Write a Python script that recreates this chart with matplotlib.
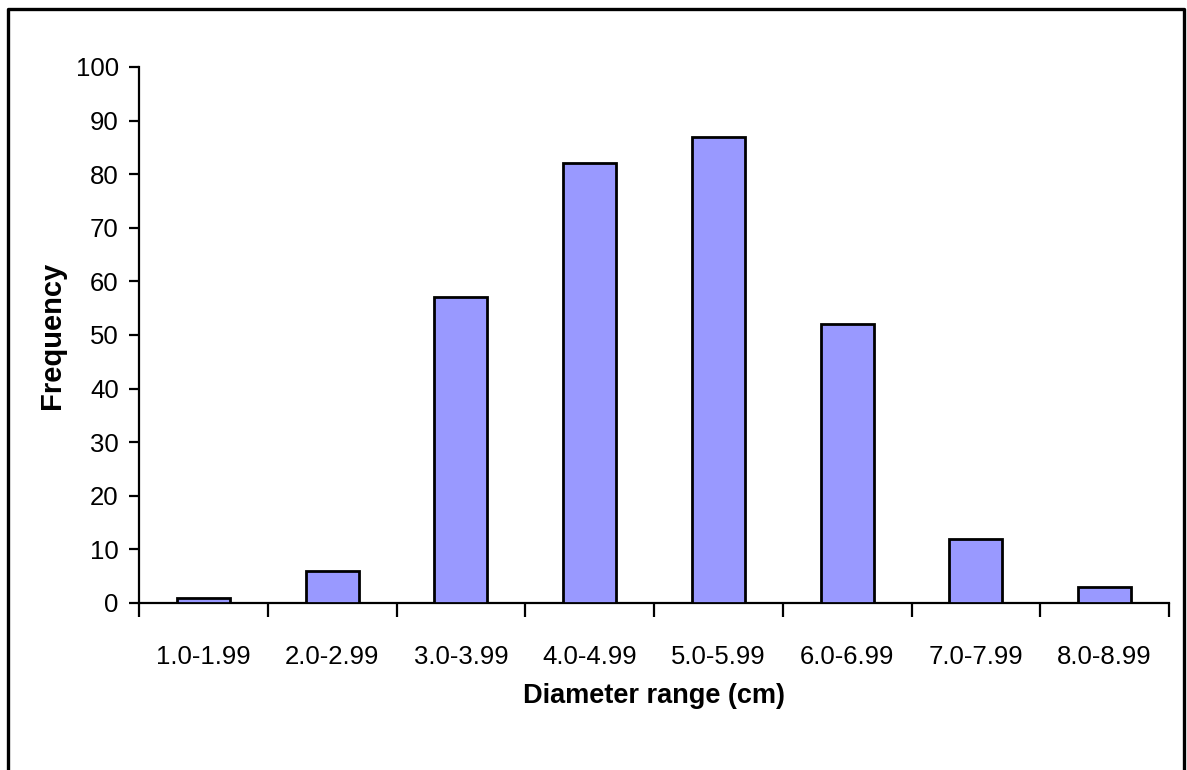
import numpy as np
import matplotlib.pyplot as plt
from matplotlib.lines import Line2D

categories = ["1.0-1.99", "2.0-2.99", "3.0-3.99", "4.0-4.99",
              "5.0-5.99", "6.0-6.99", "7.0-7.99", "8.0-8.99"]
frequency = [1, 6, 57, 82, 87, 52, 12, 3]
yticks = list(range(0, 101, 10))

plt.rcParams['font.family'] = ['Liberation Sans', 'DejaVu Sans']

W, H = 1187, 770
fig = plt.figure(figsize=(W / 100, H / 100), dpi=100)
ax = fig.add_axes([139/W, 1 - 603/H, (1169 - 139)/W, (603 - 67)/H])

x = np.arange(len(categories))
ax.bar(x, frequency, width=0.41, color='#9999FF', edgecolor='black', linewidth=2.0, zorder=3)

ax.set_xlim(-0.5, len(categories) - 0.5)
ax.set_ylim(0, 100)

# boundaries get the ticks, centres get the labels
ax.set_xticks(np.arange(-0.5, len(categories), 1.0))
ax.set_xticklabels([])
ax.set_xticks(x, minor=True)
ax.set_xticklabels(categories, minor=True, fontsize=18.5)
ax.tick_params(axis='x', which='major', direction='out', length=10, width=1.6)
ax.tick_params(axis='x', which='minor', length=0, pad=30)

ax.set_yticks(yticks)
ax.set_yticklabels([str(v) for v in yticks], fontsize=18.5)
ax.tick_params(axis='y', direction='out', length=7, width=1.6, pad=7.5)

for side in ['top', 'right']:
    ax.spines[side].set_visible(False)
ax.spines['left'].set_linewidth(1.6)
ax.spines['bottom'].set_linewidth(1.6)

ax.set_xlabel("Diameter range (cm)", fontsize=19.5, fontweight='bold', labelpad=10)
ax.set_ylabel("Frequency", fontsize=21, fontweight='bold')
ax.yaxis.set_label_coords((52 - 139) / (1169 - 139), 0.5)
ax.yaxis.label.set_va('center')

# outer frame, open at the bottom
fx = [8/W, 8/W, 1184/W, 1184/W]
fy = [-0.05, 1 - 9/H, 1 - 9/H, -0.05]
fig.add_artist(Line2D(fx, fy, transform=fig.transFigure, color='black', linewidth=2.4))

fig.savefig('out.png', dpi=100)
